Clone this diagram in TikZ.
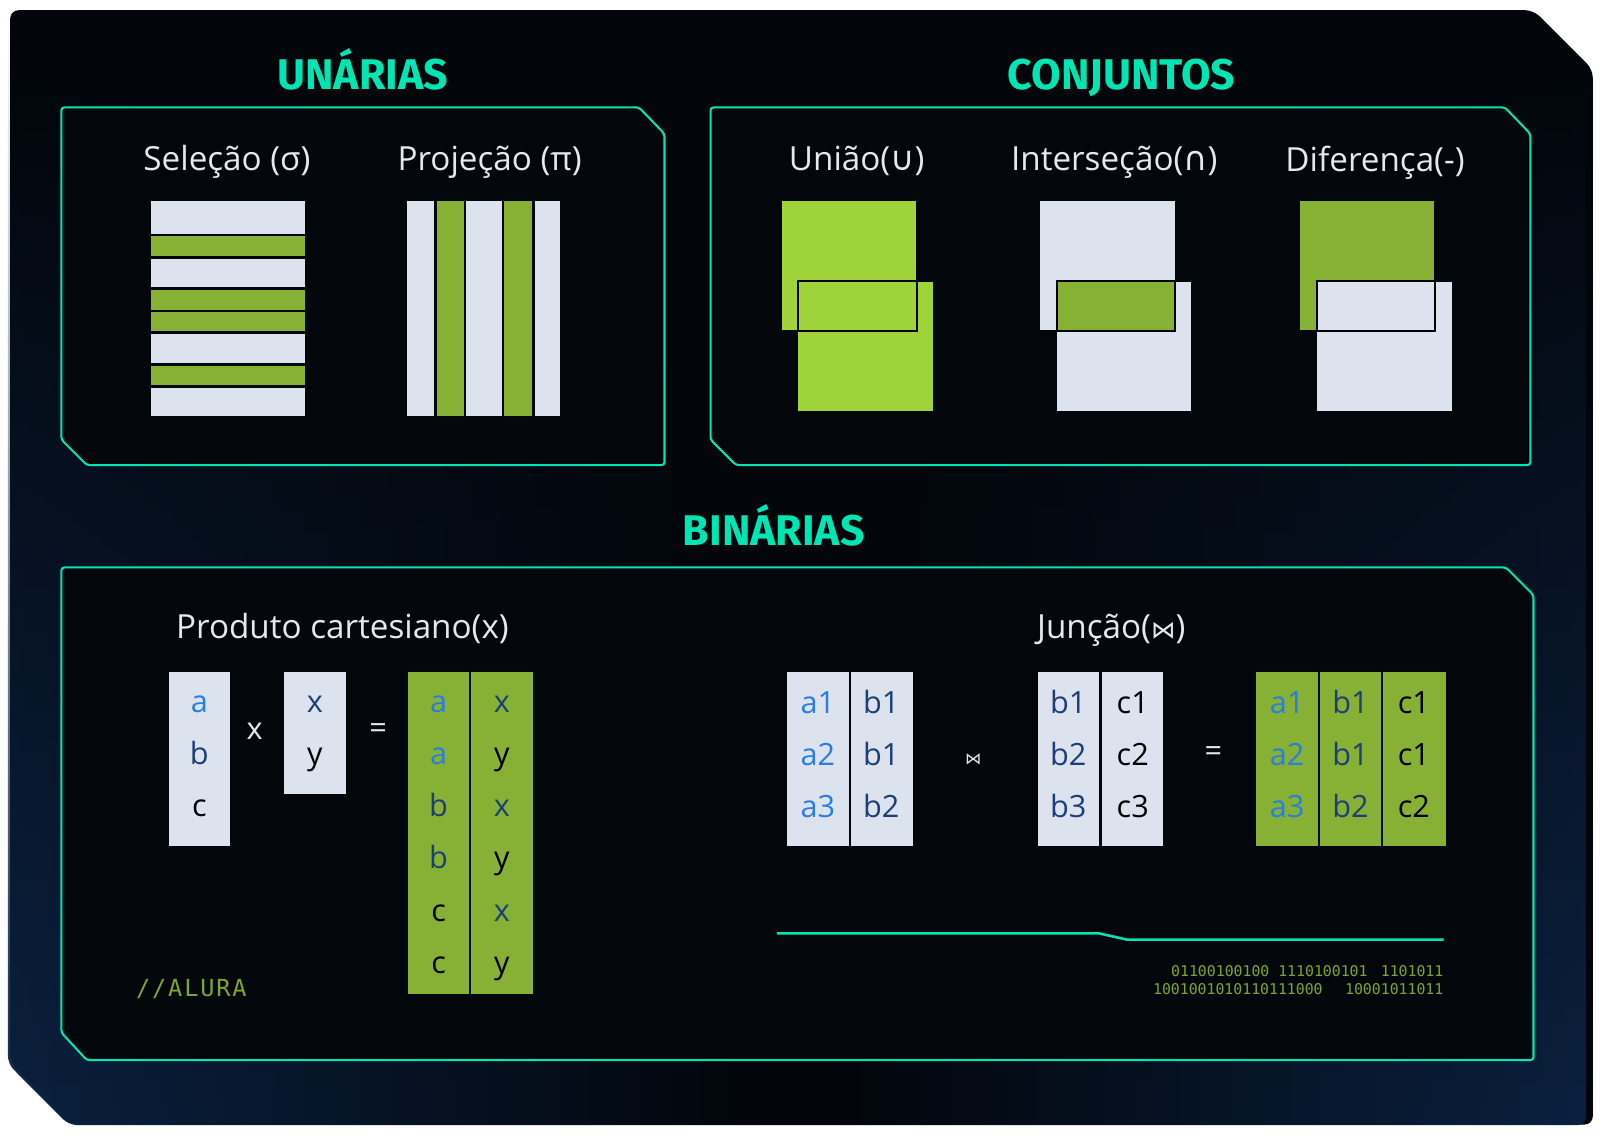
\documentclass[tikz,border=0pt]{standalone}
\usepackage{fontspec}
\setmainfont{Open Sans}
\newfontfamily\ttlfont{Fira Sans}
\newfontfamily\symfont{DejaVu Sans}
\newfontfamily\monofont{DejaVu Sans Mono}
\newfontfamily\alurafont[LetterSpace=8]{DejaVu Sans Mono}
\usetikzlibrary{fadings}
\definecolor{cMint}{HTML}{00E6B2}
\definecolor{cPanel}{HTML}{020509}
\definecolor{cBox}{HTML}{03070C}
\definecolor{cGlow}{HTML}{0B2140}
\definecolor{cCell}{HTML}{DDE3EE}
\definecolor{cGreen}{HTML}{86B134}
\definecolor{cLime}{HTML}{9ED33A}
\definecolor{cBlue}{HTML}{2A7DE1}
\definecolor{cNavy}{HTML}{1D3F78}
\definecolor{cLab}{HTML}{E4E8EF}
\definecolor{cOlive}{HTML}{7DA52C}
\tikzfading[name=bottomglow, top color=transparent!100, bottom color=transparent!0]
\begin{document}
\begin{tikzpicture}[x=1pt,y=-1pt,
  frame/.style={draw=cMint, line width=2pt, rounded corners=3pt, fill=cBox},
  title/.style={text=cMint, font=\ttlfont\bfseries\fontsize{42}{48}\selectfont, anchor=base, inner sep=0pt},
  lab/.style={text=cLab, font=\fontsize{32.5}{38}\selectfont, anchor=base, inner sep=0pt},
  cell/.style={font=\fontsize{30}{36}\selectfont, anchor=base, inner sep=0pt},
  ca/.style={cell, text=cBlue},
  cb/.style={cell, text=cNavy},
  cc/.style={cell, text=black},
  op/.style={text=cLab, font=\fontsize{30}{36}\selectfont, inner sep=0pt},
  over/.style={draw=black, line width=2pt},
  bin/.style={text=cOlive, font=\monofont\fontsize{14.5}{19}\selectfont, anchor=base east, inner sep=0pt}
]
\useasboundingbox (0,0) rectangle (1568,1112);
\fill[white] (0,0) rectangle (1568,1112);
% panel
\fill[cPanel, rounded corners=8pt] (10,10) -- (1500,10) -- (1558,68) -- (1558,1100) -- (70,1100) -- (10,1040) -- cycle;
\shade[left color=cGlow, right color=cGlow, middle color=cPanel, path fading=bottomglow, rounded corners=8pt]
  (10,10) -- (1500,10) -- (1558,68) -- (1558,1100) -- (70,1100) -- (10,1040) -- cycle;

% frames
\draw[frame] (60,105) -- (625,105) -- (650,131) -- (650,455) -- (85,455) -- (60,430) -- cycle;
\draw[frame] (695,105) -- (1472,105) -- (1497,131) -- (1497,455) -- (720,455) -- (695,430) -- cycle;
\draw[frame] (60,555) -- (1473,555) -- (1500,582) -- (1500,1037) -- (85,1037) -- (60,1010) -- cycle;

% titles
\node[title] (tUn) at (355,88) {UNÁRIAS};
\node[title] (tCo) at (1097,88) {CONJUNTOS};
\node[title] (tBi) at (757,534) {BINÁRIAS};

% labels
\node[lab] (lSel) at (222,167) {Seleção (σ)};
\node[lab] (lPro) at (479,167) {Projeção (π)};
\node[lab] (lUni) at (838,167) {União({\symfont ∪})};
\node[lab] (lInt) at (1090,167) {Interseção({\symfont ∩})};
\node[lab] (lDif) at (1345,168) {Diferença(-)};
\node[lab] (lPrd) at (335,625) {Produto cartesiano(x)};
\node[lab] (lJun) at (1087,625) {Junção({\symfont\fontsize{24}{28}\selectfont ⋈})};

% selection
\fill[cCell]  (148,197) rectangle (298,229);
\fill[cGreen] (148,231) rectangle (298,250);
\fill[cCell]  (148,253) rectangle (298,281);
\fill[cGreen] (148,284) rectangle (298,303);
\fill[cGreen] (148,305) rectangle (298,324);
\fill[cCell]  (148,327) rectangle (298,355);
\fill[cGreen] (148,358) rectangle (298,377);
\fill[cCell]  (148,380) rectangle (298,407);

% projection
\fill[cCell]  (398,197) rectangle (425,407);
\fill[cGreen] (427,197) rectangle (454,407);
\fill[cCell]  (456,197) rectangle (491,407);
\fill[cGreen] (493,197) rectangle (520,407);
\fill[cCell]  (523,197) rectangle (548,407);

% union
\fill[cLime] (765,197) rectangle (896,323);
\fill[cLime] (781,276) rectangle (913,402);
\draw[over] (781,275) rectangle (897,324);
% intersection
\fill[cCell] (1017,197) rectangle (1149,323);
\fill[cCell] (1034,276) rectangle (1165,402);
\draw[over, fill=cGreen] (1034,275) rectangle (1149,324);
% difference
\fill[cGreen] (1272,197) rectangle (1403,323);
\fill[cCell] (1288,276) rectangle (1420,402);
\draw[over] (1288,275) rectangle (1404,324);

% cartesian product
\fill[cCell] (165,657) rectangle (225,828);
\node[ca] (p1a) at (195,697) {a};
\node[cb] (p1b) at (195,748) {b};
\node[cc] (p1c) at (195,799) {c};
\node[op] (opx) at (249,715) {x};
\fill[cCell] (278,657) rectangle (338,777);
\node[cb] (p2x) at (308,697) {x};
\node[cc] (p2y) at (308,748) {y};
\node[op] (opeq1) at (370,715) {=};
\fill[cGreen] (399,657) rectangle (459,972);
\fill[cGreen] (461,657) rectangle (521,972);
\node[ca] (r1) at (429,697) {a};
\node[ca] (r2) at (429,748) {a};
\node[cb] (r3) at (429,799) {b};
\node[cb] (r4) at (429,850) {b};
\node[cc] (r5) at (429,901) {c};
\node[cc] (r6) at (429,952) {c};
\node[cb] (s1) at (491,697) {x};
\node[cc] (s2) at (491,748) {y};
\node[cb] (s3) at (491,799) {x};
\node[cc] (s4) at (491,850) {y};
\node[cb] (s5) at (491,901) {x};
\node[cc] (s6) at (491,952) {y};

% join
\fill[cCell] (770,657) rectangle (830,828);
\fill[cCell] (832,657) rectangle (893,828);
\node[ca] (j1a) at (800,698) {a1};
\node[ca] (j1b) at (800,749) {a2};
\node[ca] (j1c) at (800,800) {a3};
\node[cb] (j2a) at (862,698) {b1};
\node[cb] (j2b) at (862,749) {b1};
\node[cb] (j2c) at (862,800) {b2};
\node[text=cLab, font=\symfont\fontsize{16}{20}\selectfont, inner sep=0pt] (opj) at (952,743) {⋈};
\fill[cCell] (1015,657) rectangle (1075,828);
\fill[cCell] (1078,657) rectangle (1138,828);
\node[cb] (k1a) at (1045,698) {b1};
\node[cb] (k1b) at (1045,749) {b2};
\node[cb] (k1c) at (1045,800) {b3};
\node[cc] (k2a) at (1108,698) {c1};
\node[cc] (k2b) at (1108,749) {c2};
\node[cc] (k2c) at (1108,800) {c3};
\node[op] (opeq2) at (1187,738) {=};
\fill[cGreen] (1229,657) rectangle (1289,828);
\fill[cGreen] (1291,657) rectangle (1351,828);
\fill[cGreen] (1353,657) rectangle (1414,828);
\node[ca] (m1a) at (1259,698) {a1};
\node[ca] (m1b) at (1259,749) {a2};
\node[ca] (m1c) at (1259,800) {a3};
\node[cb] (m2a) at (1321,698) {b1};
\node[cb] (m2b) at (1321,749) {b1};
\node[cb] (m2c) at (1321,800) {b2};
\node[cc] (m3a) at (1383,698) {c1};
\node[cc] (m3b) at (1383,749) {c1};
\node[cc] (m3c) at (1383,800) {c2};

% decorative line and binary
\draw[cMint, line width=2.5pt] (760,913) -- (1075,913) -- (1102,919) -- (1412,919);
\node[bin] (bin1) at (1412,955) {01100100100\ 1110100101\hspace{13pt}1101011};
\node[bin] (bin2) at (1412,973) {1001001010110111000\hspace{22pt}10001011011};
\node[text=cOlive, font=\alurafont\fontsize{23}{28}\selectfont, anchor=base west, inner sep=0pt] (alura) at (133,975) {//ALURA};
\end{tikzpicture}
\end{document}
